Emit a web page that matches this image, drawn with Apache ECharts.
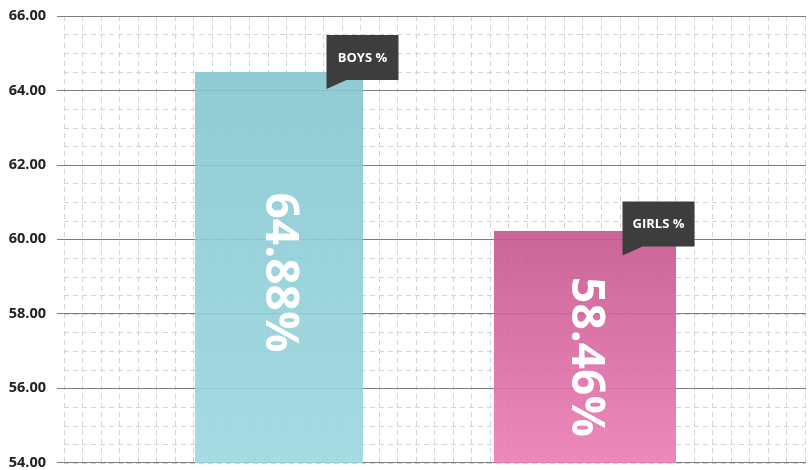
<!DOCTYPE html>
<html>
<head>
    <meta charset="utf-8">
    <title>Boys / Girls</title>
    <script src="https://cdn.jsdelivr.net/npm/echarts@6/dist/echarts.min.js"></script>
    <style>
        html, body { margin: 0; padding: 0; background: #fff; }
    </style>
</head>
<body>
<div id="main" style="width: 811px;height:470px;"></div>
<script type="text/javascript">
    // data
    const categories = ['BOYS %', 'GIRLS %'];
    const barValues = [64.5, 60.23];          // bar heights on the axis
    const valueLabels = ['64.88%', '58.46%']; // the big text printed in each bar
    const yMin = 54, yMax = 66, yStep = 2;

    const font = '"Open Sans", "DejaVu Sans", sans-serif';

    // tag box with a small pointer at its lower left corner
    const tagPath = 'path://M0,0 L72,0 L72,45 L20,45 L0,54 Z';

    function barSeries(idx, width, colorTop, colorBottom, tagOffset, labelOffset) {
        const data = categories.map(function (c, i) { return i === idx ? barValues[i] : null; });
        return {
            type: 'bar',
            name: categories[idx],
            xAxisIndex: 2,
            yAxisIndex: 2,
            barWidth: width,
            barGap: '-100%',
            data: data,
            itemStyle: {
                color: new echarts.graphic.LinearGradient(0, 0, 0, 1, [
                    { offset: 0, color: colorTop },
                    { offset: 1, color: colorBottom }
                ])
            },
            label: {
                show: true,
                position: 'inside',
                rotate: -90,
                offset: labelOffset, // in the rotated frame: x runs downwards
                color: '#fff',
                fontFamily: font,
                fontWeight: 'bold',
                fontSize: 46,
                formatter: function (p) { return valueLabels[p.dataIndex]; }
            },
            markPoint: {
                symbol: tagPath,
                symbolSize: [72, 54],
                symbolKeepAspect: false,
                itemStyle: { color: '#3d3d3d' },
                label: {
                    show: true,
                    position: 'inside',
                    offset: [0, -4],
                    color: '#fff',
                    fontFamily: font,
                    fontWeight: 'bold',
                    fontSize: 13,
                    formatter: categories[idx]
                },
                data: [{ coord: [idx, barValues[idx]], symbolOffset: tagOffset }]
            }
        };
    }

    let myChart = echarts.init(document.getElementById('main'));

    myChart.setOption({
        backgroundColor: '#fff',
        animation: false,
        grid: [
            // major lines + y labels
            { left: 57, right: 5, top: 16, bottom: 7 },
            // dashed square mesh
            { left: 64, right: 6, top: 16, bottom: 7 },
            // bars
            { left: 136.5, right: 76.5, top: 16, bottom: 7 }
        ],
        xAxis: [
            { gridIndex: 0, type: 'category', data: categories, show: false },
            {
                gridIndex: 1, type: 'value', min: 0, max: 40, interval: 1, z: 0,
                axisLine: { show: false }, axisTick: { show: false }, axisLabel: { show: false },
                splitLine: { show: true, lineStyle: { color: '#d4d4d4', type: [5, 4], width: 1 } }
            },
            { gridIndex: 2, type: 'category', data: categories, show: false }
        ],
        yAxis: [
            {
                gridIndex: 0, type: 'value', min: yMin, max: yMax, interval: yStep, z: 1,
                axisLine: { show: false }, axisTick: { show: false },
                axisLabel: {
                    margin: 11,
                    color: '#222',
                    fontFamily: font,
                    fontWeight: 'bold',
                    fontSize: 14.5,
                    formatter: function (v) { return v.toFixed(2); }
                },
                splitLine: { show: true, lineStyle: { color: '#7d7d7d', width: 1 } }
            },
            {
                gridIndex: 1, type: 'value', min: yMin, max: yMax, interval: 0.5, z: 0,
                axisLine: { show: false }, axisTick: { show: false }, axisLabel: { show: false },
                splitLine: { show: true, lineStyle: { color: '#d4d4d4', type: [5, 4], width: 1 } }
            },
            { gridIndex: 2, type: 'value', min: yMin, max: yMax, show: false, splitLine: { show: false } }
        ],
        series: [
            barSeries(0, 168, 'rgba(132,198,208,0.9)', 'rgba(156,215,223,0.9)', [83.5, -10], [5, 0]),
            barSeries(1, 182, 'rgba(198,85,142,0.9)', 'rgba(236,124,181,0.9)', [73.5, -2.5], [10, 0])
        ]
    });
</script>
</body>
</html>
